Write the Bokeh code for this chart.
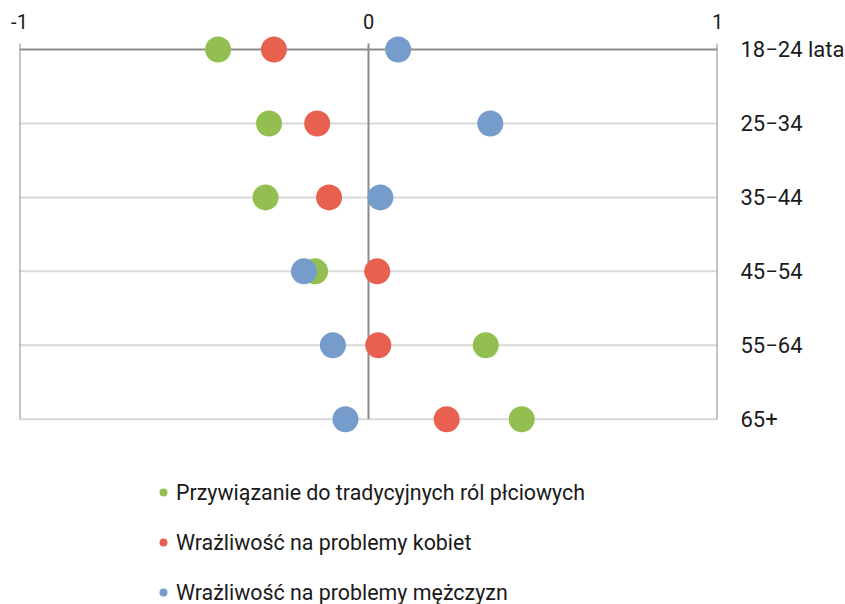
from bokeh.plotting import figure
from bokeh.models import (Range1d, LinearAxis, FixedTicker, Legend, LegendItem,
                          ColumnDataSource)
from bokeh.embed import file_html
from bokeh.resources import INLINE

# ---- data ----
categories = ["18−24 lata", "25−34", "35−44", "45−54", "55−64", "65+"]
x_ticks = [-1, 0, 1]
x_tick_labels = ["-1", "0", "1"]
series_names = ["Przywiązanie do tradycyjnych ról płciowych",
                "Wrażliwość na problemy kobiet",
                "Wrażliwość na problemy mężczyzn"]
traditional = [-0.431, -0.285, -0.295, -0.153, 0.336, 0.439]
women = [-0.271, -0.147, -0.113, 0.025, 0.028, 0.224]
men = [0.085, 0.349, 0.034, -0.185, -0.102, -0.066]
colors = ["#93BF50", "#E8604F", "#759CCB"]

rows = list(range(len(categories)))
FONT = "Roboto"
TXT = "#1a1a1a"

p = figure(frame_width=698, frame_height=574,
           x_range=Range1d(-1, 1), y_range=Range1d(7.505, -0.2569),
           x_axis_type=None, y_axis_type=None,
           min_border_left=19, min_border_right=0, min_border_top=30,
           min_border_bottom=0,
           output_backend="svg", toolbar_location=None)
p.outline_line_color = None
p.background_fill_color = "white"

# horizontal row lines
p.segment(x0=[x_ticks[0]] * len(rows[1:]), x1=[x_ticks[-1]] * len(rows[1:]),
          y0=rows[1:], y1=rows[1:], line_color="#d9d9d9", line_width=2)
p.segment(x0=[x_ticks[0]], x1=[x_ticks[-1]], y0=rows[:1], y1=rows[:1],
          line_color="#8c8c8c", line_width=2)
# vertical lines at ticks
p.segment(x0=x_ticks, x1=x_ticks, y0=[-0.081] * len(x_ticks),
          y1=[rows[-1]] * len(x_ticks), line_color="#8c8c8c", line_width=2)

renderers = []
for vals, col in zip([traditional, women, men], colors):
    src = ColumnDataSource(dict(x=vals, y=rows))
    r = p.scatter("x", "y", source=src, size=26, fill_color=col,
                  line_color=None)
    renderers.append(r)

# top axis
top = LinearAxis(ticker=FixedTicker(ticks=x_ticks),
                 major_label_overrides={t: l for t, l in zip(x_ticks, x_tick_labels)})
top.axis_line_color = None
top.major_tick_line_color = None
top.minor_tick_line_color = None
top.major_tick_out = 0
top.major_tick_in = 0
top.major_label_standoff = 2
top.major_label_text_font = FONT
top.major_label_text_font_size = "20px"
top.major_label_text_color = TXT
p.add_layout(top, "above")

# right axis with categories
right = LinearAxis(ticker=FixedTicker(ticks=rows),
                   major_label_overrides={i: c for i, c in zip(rows, categories)})
right.axis_line_color = None
right.major_tick_line_color = None
right.minor_tick_line_color = None
right.major_tick_out = 0
right.major_tick_in = 0
right.major_label_standoff = 23
right.major_label_text_font = FONT
right.major_label_text_font_size = "22px"
right.major_label_text_color = TXT
p.add_layout(right, "right")

legend = Legend(items=[LegendItem(label=n, renderers=[r])
                       for n, r in zip(series_names, renderers)],
                location=(134, -1), orientation="vertical",
                glyph_width=20, glyph_height=26, label_height=26,
                spacing=24, label_standoff=3, padding=0, margin=0,
                border_line_color=None, background_fill_alpha=0,
                label_text_font=FONT, label_text_font_size="21.4px",
                label_text_color=TXT)
p.add_layout(legend)

open("out.html", "w").write(file_html(p, INLINE))
